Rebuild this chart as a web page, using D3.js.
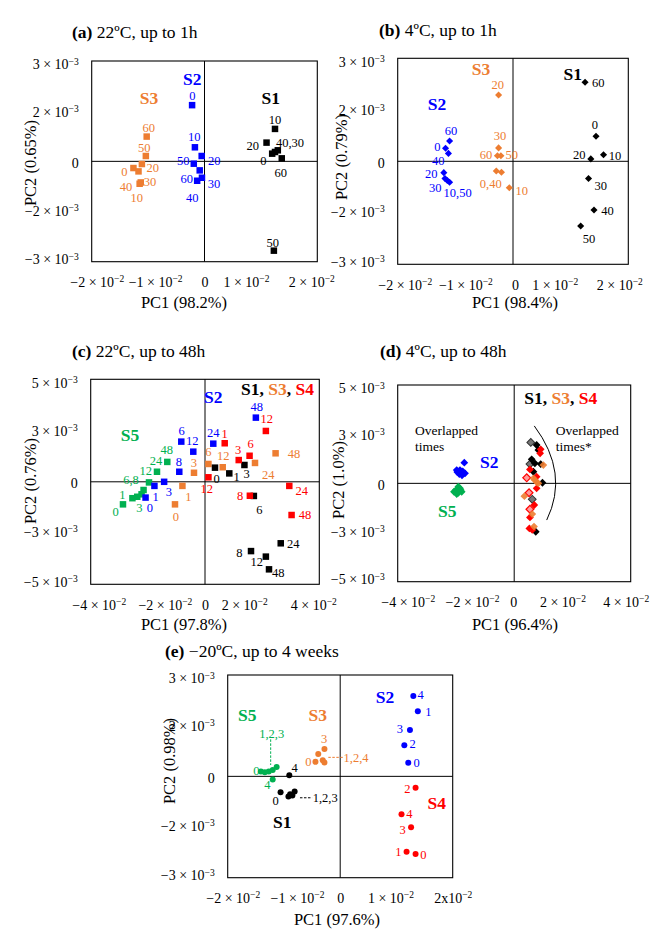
<!DOCTYPE html>
<html><head><meta charset="utf-8">
<script src="https://cdn.jsdelivr.net/npm/d3@7"></script>
<style>body{margin:0;background:#fff}</style>
</head><body><script>
// ===== DATA (PC1 in units of 10^-2, PC2 in units of 10^-3) =====
const COL = {S1:'#000000', S2:'#0000ff', S3:'#ed7d31', S4:'#ff0000', S5:'#00b050'};

// tick labels ("^" starts the superscript exponent)
const ticks1hX = [-2,-1,0,1,2];
const ticks1hXLabels = ["−2 × 10^−2","−1 × 10^−2","0","1 × 10^−2","2 × 10^−2"];
const ticks1hY = [3,1.5,0,-1.5,-3];
const ticks1hYLabels = ["3 × 10^−3","2 × 10^−3","0","−2 × 10^−3","−3 × 10^−3"];
const ticks48hX = [-4,-2,0,2,4];
const ticks48hXLabels = ["−4 × 10^−2","−2 × 10^−2","0","2 × 10^−2","4 × 10^−2"];
const ticks48hY = [5,2.5,0,-2.5,-5];
const ticks48hYLabels = ["5 × 10^−3","3 × 10^−3","0","−3 × 10^−3","−5 × 10^−3"];
const ticks4wXLabels = ["−2 × 10^−2","−1 × 10^−2","0","1 × 10^−2","2x10^−2"];

// (a) 22°C, up to 1h
const a_S1 = [[1.20,0.23],[1.25,0.97],[1.10,0.56],[1.25,0.28],[1.30,0.33],[1.23,-2.67],[1.37,0.09]];
const a_S2 = [[-0.22,1.68],[-0.17,0.42],[-0.05,0.16],[-0.045,-0.49],[-0.085,-0.27],[-0.19,-0.07],[-0.13,-0.58]];
const a_S3 = [[-1.26,-0.20],[-1.15,-0.67],[-1.11,-0.08],[-1.13,-0.63],[-1.17,-0.30],[-1.04,0.16],[-1.025,0.74]];
const a_labels = [
 ["10",1.25,1.26,"S1"],["20",0.855,0.46,"S1"],["40,30",1.516,0.556,"S1"],["0",1.043,0.02,"S1"],["60",1.351,-0.33,"S1"],["50",1.209,-2.42,"S1"],
 ["0",-0.216,1.97,"S2"],["10",-0.181,0.736,"S2"],["20",0.174,0.018,"S2"],["50",-0.376,0.009,"S2"],["60",-0.316,-0.52,"S2"],["30",0.168,-0.68,"S2"],["40",-0.216,-1.09,"S2"],
 ["60",-0.989,1.017,"S3"],["50",-1.067,0.419,"S3"],["20",-0.918,-0.20,"S3"],["0",-1.422,-0.311,"S3"],["30",-0.966,-0.60,"S3"],["40",-1.392,-0.76,"S3"],["10",-1.202,-1.089,"S3"]];
const a_groups = [["S1",1.174,1.90,"S1"],["S2",-0.216,2.48,"S2"],["S3",-0.984,1.885,"S3"]];

// (b) 4°C, up to 1h
const b_S1 = [[1.44,0.73],[1.57,0.19],[1.35,0.07],[1.31,-0.50],[1.405,-1.42],[1.174,-1.885],[1.25,2.30]];
const b_S2 = [[-1.17,0.38],[-1.14,-0.56],[-1.20,-0.33],[-1.18,-0.50],[-1.12,0.23],[-1.10,-0.61],[-1.10,0.59]];
const b_S3 = [[-0.29,-0.28],[-0.064,-0.77],[-0.25,1.93],[-0.25,0.39],[-0.20,-0.32],[-0.21,0.16],[-0.27,0.16]];
const b_labels = [
 ["60",1.48,2.29,"S1"],["0",1.42,1.08,"S1"],["10",1.77,0.154,"S1"],["20",1.15,0.18,"S1"],["30",1.52,-0.71,"S1"],["40",1.64,-1.44,"S1"],["50",1.32,-2.26,"S1"],
 ["60",-1.075,0.88,"S2"],["0",-1.31,0.42,"S2"],["40",-1.296,0.02,"S2"],["20",-1.42,-0.36,"S2"],["30",-1.35,-0.78,"S2"],["10,50",-0.96,-0.90,"S2"],
 ["20",-0.265,2.24,"S3"],["30",-0.225,0.737,"S3"],["60",-0.468,0.18,"S3"],["50",-0.023,0.20,"S3"],["0,40",-0.387,-0.64,"S3"],["10",0.151,-0.865,"S3"]];
const b_groups = [["S1",1.036,2.56,"S1"],["S2",-1.32,1.67,"S2"],["S3",-0.555,2.69,"S3"]];

// (c) 22°C, up to 48h
const c_S1 = [[0.35,0.69],[0.85,0.41],[1.38,0.82],[1.71,-0.69],[1.61,-3.38],[2.13,-3.65],[2.65,-3.0],[2.24,-4.27]];
const c_S2 = [[-2.08,-0.77],[-1.77,-0.20],[-1.43,0.0],[-0.83,1.96],[-0.90,0.49],[-0.41,1.47],[0.29,1.86],[1.78,3.13]];
const c_S3 = [[-1.05,-1.10],[-0.79,-0.20],[-0.385,0.44],[0.12,0.87],[0.62,0.71],[1.75,0.92],[2.47,1.39]];
const c_S4 = [[0.12,0.22],[0.69,1.88],[1.18,1.06],[1.56,1.27],[1.57,-0.68],[2.13,2.48],[2.95,-0.20],[3.03,-1.62]];
const c_S5 = [[-2.87,-1.10],[-2.54,-0.80],[-2.37,-0.73],[-2.22,-0.61],[-2.15,-0.40],[-1.96,-0.03],[-1.68,0.49],[-1.32,0.97]];
const c_labels = [
 ["6",-0.815,2.49,"S2"],["12",-0.444,2.00,"S2"],["8",-0.91,0.98,"S2"],["3",-1.26,-0.48,"S2"],["1",-1.725,-0.73,"S2"],["0",-1.925,-1.24,"S2"],["24",0.29,2.40,"S2"],["48",1.81,3.68,"S2"],
 ["0",-3.125,-1.46,"S5"],["1",-2.894,-0.64,"S5"],["3",-2.30,-1.26,"S5"],["6,8",-2.59,0.09,"S5"],["12",-2.075,0.53,"S5"],["24",-1.715,1.01,"S5"],["48",-1.34,1.55,"S5"],
 ["3",-0.385,0.93,"S3"],["1",-0.584,-0.73,"S3"],["0",-1.015,-1.70,"S3"],["6",0.115,1.47,"S3"],["12",0.64,1.26,"S3"],["24",2.215,0.33,"S3"],["48",3.115,1.39,"S3"],
 ["1",0.69,2.37,"S4"],["12",2.16,3.10,"S4"],["3",1.155,1.55,"S4"],["6",1.60,1.88,"S4"],["12",0.06,-0.35,"S4"],["8",1.225,-0.68,"S4"],["24",3.384,-0.45,"S4"],["48",3.50,-1.62,"S4"],
 ["0",0.41,0.17,"S1"],["1",1.11,0.25,"S1"],["3",1.46,0.38,"S1"],["6",1.90,-1.34,"S1"],["24",3.09,-3.03,"S1"],["8",1.20,-3.44,"S1"],["12",1.81,-3.90,"S1"],["48",2.565,-4.43,"S1"]];
const c_groups = [["S2",0.29,4.12,"S2"],["S5",-2.625,2.28,"S5"]];

// (d) 4°C, up to 48h
const d_S2 = [[-1.713,1.05],[-1.861,0.676],[-1.953,0.574],[-1.768,0.61],[-1.689,0.508],[-1.885,0.473],[-1.792,0.407],[-1.974,0.676]];
const d_S5 = [[-1.919,-0.173],[-1.998,-0.34],[-1.861,-0.254],[-2.067,-0.427],[-1.919,-0.478],[-1.803,-0.427],[-1.974,-0.544],[-1.837,-0.34]];
const d_S1_faded = [[0.57,2.08],[0.54,0.98],[0.62,-0.81]];
const d_S4_faded = [[0.43,0.28],[0.51,-0.48],[0.54,-1.32]];
const d_S1 = [[0.77,1.95],[0.83,1.69],[0.60,1.22],[0.71,1.02],[0.91,0.98],[0.66,0.59],[0.97,0.03],[0.74,-2.46]];
const d_S4 = [[0.91,1.73],[0.89,1.53],[0.54,0.71],[0.77,0.34],[0.77,-0.25],[0.69,-1.10],[0.54,-1.73],[0.52,-2.29],[0.62,-2.37]];
const d_S3 = [[1.0,0.93],[0.71,0.17],[0.66,0.25],[0.78,0.05],[0.83,0.0],[0.35,-0.65],[0.62,-1.56],[0.68,-2.2]];
const d_groups = [["S2",-0.855,1.07,"S2"],["S5",-2.297,-1.41,"S5"]];

// (e) −20°C, up to 4 weeks
const e_S1 = [[-0.905,0.03],[-1.06,-0.47],[-0.92,-0.60],[-0.85,-0.57],[-0.81,-0.45],[-0.89,-0.53]];
const e_S2 = [[1.21,0.40],[1.38,1.93],[1.14,0.92],[1.24,1.37],[1.30,2.38]];
const e_S3 = [[-0.28,0.81],[-0.39,0.66],[-0.44,0.43],[-0.31,0.48],[-0.28,0.41]];
const e_S4 = [[1.34,-2.30],[1.18,-2.23],[1.34,-0.34],[1.26,-1.51],[1.09,-1.12]];
const e_S5 = [[-1.41,0.14],[-1.34,0.12],[-1.27,0.14],[-1.20,0.19],[-1.13,0.28],[-1.20,-0.09]];
const e_labels = [
 ["4",1.431,2.41,"S2"],["1",1.566,1.93,"S2"],["3",1.063,1.42,"S2"],["2",1.289,0.98,"S2"],["0",1.36,0.40,"S2"],
 ["2",1.193,-0.355,"S4"],["4",1.228,-1.116,"S4"],["3",1.111,-1.59,"S4"],["1",1.033,-2.23,"S4"],["0",1.477,-2.31,"S4"],
 ["0",-1.49,0.166,"S5"],["4",-1.296,-0.237,"S5"],["1,2,3",-1.218,1.27,"S5"],
 ["4",-0.809,0.266,"S1"],["0",-1.147,-0.72,"S1"],["1,2,3",-0.49,-0.634,"S1","start"],
 ["3",-0.288,1.125,"S3"],["0",-0.567,0.43,"S3"],["1,2,4",0.06,0.5625,"S3","start"]];
const e_groups = [["S2",0.796,2.36,"S2"],["S4",1.716,-0.78,"S4"],["S5",-1.652,1.815,"S5"],["S1",-1.029,-1.36,"S1"],["S3",-0.40,1.815,"S3"]];

// ===== DRAWING =====
const FONT = '"Liberation Serif","Times New Roman",Times,serif';
const svg = d3.select('body').append('svg').attr('width',667).attr('height',942)
  .style('font-family',FONT).style('background','#fff');

function sci(t, s){
  t.text(null);
  const parts = s.split('^');
  t.append('tspan').text(parts[0]);
  if(parts[1]) t.append('tspan').attr('dy','-0.5em').attr('font-size','0.68em').text(parts[1]);
}

function panel(p){
  const x = d3.scaleLinear().domain(p.xd).range([p.box[0], p.box[2]]);
  const y = d3.scaleLinear().domain(p.yd).range([p.box[3], p.box[1]]);
  const g = svg.append('g');
  // title
  const tt = g.append('text').attr('x',p.title[0]).attr('y',p.title[1]).attr('font-size',17.5);
  tt.append('tspan').attr('font-weight','bold').text(p.title[2]);
  tt.append('tspan').text(p.title[3]);
  // x ticks
  const gx = g.append('g').attr('transform',`translate(0,${y(p.yd[0])})`)
    .call(d3.axisBottom(x).tickValues(p.xt).tickSize(0).tickFormat(''))
    .attr('font-family',FONT).attr('font-size',14);
  gx.select('.domain').remove();
  gx.selectAll('.tick text').each(function(d,i){
    const t=d3.select(this).attr('y',21).attr('dy','0.32em').attr('dx',p.xdx[i]).attr('fill','#000');
    sci(t,p.xl[i]);
  });
  // y ticks
  const gy = g.append('g').attr('transform',`translate(${x(p.xd[0])},0)`)
    .call(d3.axisLeft(y).tickValues(p.yt).tickSize(0).tickPadding(13).tickFormat(''))
    .attr('font-family',FONT).attr('font-size',14);
  gy.select('.domain').remove();
  gy.selectAll('.tick text').each(function(d,i){
    const t=d3.select(this).attr('dy',(0.36+ (p.ydy?p.ydy[i]:0))+'em').attr('fill','#000');
    sci(t,p.yl[i]);
  });
  // frame + zero lines
  g.append('rect').attr('x',x(p.xd[0])).attr('y',y(p.yd[1]))
    .attr('width',x(p.xd[1])-x(p.xd[0])).attr('height',y(p.yd[0])-y(p.yd[1]))
    .attr('fill','none').attr('stroke','#000').attr('stroke-width',1.1);
  g.append('line').attr('x1',x(0)).attr('x2',x(0)).attr('y1',y(p.yd[0])).attr('y2',y(p.yd[1])).attr('stroke','#000').attr('stroke-width',1);
  g.append('line').attr('x1',x(p.xd[0])).attr('x2',x(p.xd[1])).attr('y1',y(0)).attr('y2',y(0)).attr('stroke','#000').attr('stroke-width',1);
  // axis titles
  g.append('text').attr('x',p.xlab[0]).attr('y',p.xlab[1]).attr('text-anchor','middle').attr('font-size',16.5).text(p.xlab[2]);
  g.append('text').attr('transform',`translate(${p.ylab[0]},${p.ylab[1]}) rotate(-90)`).attr('dy','0.35em')
    .attr('text-anchor','middle').attr('font-size',16.5).text(p.ylab[2]);
  // annotations (behind marks)
  if(p.extra) p.extra(g,x,y);
  // series
  p.series.forEach(s=>{
    if(s.shape==='circle'){
      g.selectAll(null).data(s.data).join('circle').attr('cx',d=>x(d[0])).attr('cy',d=>y(d[1])).attr('r',s.size)
        .attr('fill',s.fill||COL[s.key]);
      return;
    }
    const sym = d3.symbol().type(d3.symbolSquare).size(s.size*s.size);
    g.selectAll(null).data(s.data).join('path').attr('d',sym)
      .attr('transform',d=>`translate(${x(d[0])},${y(d[1])})`+(s.shape==='diamond'?' rotate(45)':''))
      .attr('fill',s.fill||COL[s.key]).attr('fill-opacity',s.op==null?1:s.op)
      .attr('stroke',s.stroke||'none').attr('stroke-width',s.sw||0);
  });
  // point labels
  (p.labels||[]).forEach(l=>{
    g.append('text').attr('x',x(l[1])).attr('y',y(l[2])).attr('dy','0.35em')
      .attr('text-anchor',l[4]||'middle').attr('font-size',12.5).attr('fill',COL[l[3]]).text(l[0]);
  });
  (p.groups||[]).forEach(l=>{
    g.append('text').attr('x',x(l[1])).attr('y',y(l[2])).attr('dy','0.35em')
      .attr('text-anchor','middle').attr('font-size',17.5).attr('font-weight','bold').attr('fill',COL[l[3]]).text(l[0]);
  });
  if(p.multi){
    const t=g.append('text').attr('x',x(p.multi[0])).attr('y',y(p.multi[1])).attr('dy','0.35em')
      .attr('text-anchor','middle').attr('font-size',17.5).attr('font-weight','bold');
    [["S1","S1"],[", ","S1"],["S3","S3"],[", ","S1"],["S4","S4"]].forEach(q=>t.append('tspan').attr('fill',COL[q[1]]).text(q[0]));
  }
}

// (a)
panel({box:[91.7,61,317.3,261.7], xd:[-2,2], yd:[-3,3], xt:ticks1hX, xl:ticks1hXLabels, xdx:[5,7,0,-15,-6],
  yt:ticks1hY, yl:ticks1hYLabels, ydy:[0.2,0,0.05,-0.1,-0.2],
  title:[72,38,"(a)"," 22ºC, up to 1h"], xlab:[184,308,"PC1 (98.2%)"], ylab:[30,163,"PC2 (0.65%)"],
  series:[{key:'S3',data:a_S3,shape:'square',size:6.5},{key:'S2',data:a_S2,shape:'square',size:6.5},{key:'S1',data:a_S1,shape:'square',size:6.5}],
  labels:a_labels, groups:a_groups});

// (b)
panel({box:[397.7,58.3,628.3,264.3], xd:[-2,2], yd:[-3,3], xt:ticks1hX, xl:ticks1hXLabels, xdx:[7,10,2,-16,-9],
  yt:ticks1hY, yl:ticks1hYLabels, ydy:[0.2,0,0.05,-0.1,-0.2],
  title:[379,36,"(b)"," 4ºC, up to 1h"], xlab:[515,308,"PC1 (98.4%)"], ylab:[341,157,"PC2 (0.79%)"],
  series:[{key:'S3',data:b_S3,shape:'diamond',size:5},{key:'S2',data:b_S2,shape:'diamond',size:5},{key:'S1',data:b_S1,shape:'diamond',size:5}],
  labels:b_labels, groups:b_groups});

// (c)
panel({box:[90.7,379.3,319.3,584.3], xd:[-4,4], yd:[-5,5], xt:ticks48hX, xl:ticks48hXLabels, xdx:[8,17,0,-18,-6],
  yt:ticks48hY, yl:ticks48hYLabels, ydy:[0.2,0,0.05,-0.1,-0.2],
  title:[72,357,"(c)"," 22ºC, up to 48h"], xlab:[184,630,"PC1 (97.8%)"], ylab:[30,481,"PC2 (0.76%)"],
  series:[{key:'S5',data:c_S5,shape:'square',size:6.5},{key:'S2',data:c_S2,shape:'square',size:6.5},{key:'S3',data:c_S3,shape:'square',size:6.5},
          {key:'S1',data:c_S1,shape:'square',size:6.5},{key:'S4',data:c_S4,shape:'square',size:6.5}],
  labels:c_labels, groups:c_groups, multi:[2.54,4.52]});

// (d)
panel({box:[397.7,385,630.7,581.7], xd:[-4,4], yd:[-5,5], xt:ticks48hX, xl:ticks48hXLabels, xdx:[10,16,-1,-10,-5],
  yt:ticks48hY, yl:ticks48hYLabels, ydy:[0.2,0,0.05,-0.1,-0.2],
  title:[380,357,"(d)"," 4ºC, up to 48h"], xlab:[515,630,"PC1 (96.4%)"], ylab:[338,480,"PC2 (1.0%)"],
  series:[{key:'S2',data:d_S2,shape:'diamond',size:5.5},{key:'S5',data:d_S5,shape:'diamond',size:5.5},
          {key:'S1',data:d_S1_faded,shape:'diamond',size:5.5,fill:'#777',stroke:'#333',sw:1},
          {key:'S1',data:d_S1,shape:'diamond',size:5.5},
          {key:'S4',data:d_S4_faded,shape:'diamond',size:5.5,fill:'#ff9a9a',stroke:'#ff0000',sw:1.2},
          {key:'S4',data:d_S4,shape:'diamond',size:5.5},
          {key:'S3',data:d_S3,shape:'diamond',size:5.5,op:0.9}],
  groups:d_groups, multi:[1.60,4.37],
  extra:(g,x,y)=>{
    const path=d3.path(); path.moveTo(x(0.69),y(2.92)); path.quadraticCurveTo(x(1.90),y(0.52),x(1.116),y(-1.866));
    g.append('path').attr('d',path.toString()).attr('fill','none').attr('stroke','#000').attr('stroke-width',1);
    [["Overlapped",-3.406,2.71],["times",-3.406,1.86],["Overlapped",1.425,2.71],["times*",1.425,1.86]].forEach(t=>
      g.append('text').attr('x',x(t[1])).attr('y',y(t[2])).attr('dy','0.35em').attr('font-size',13.5).text(t[0]));
  }});

// (e)
panel({box:[227.7,675,452.7,877.7], xd:[-2,2], yd:[-3,3], xt:ticks1hX, xl:ticks4wXLabels, xdx:[5,13,0,-6,0],
  yt:ticks1hY, yl:ticks1hYLabels, ydy:[0.2,0,0.05,-0.1,-0.2],
  title:[165,657,"(e)"," −20ºC, up to 4 weeks"], xlab:[337,925,"PC1 (97.6%)"], ylab:[169,761,"PC2 (0.98%)"],
  series:[{key:'S5',data:e_S5,shape:'circle',size:3},{key:'S1',data:e_S1,shape:'circle',size:3},{key:'S3',data:e_S3,shape:'circle',size:3},
          {key:'S2',data:e_S2,shape:'circle',size:3},{key:'S4',data:e_S4,shape:'circle',size:3}],
  labels:e_labels, groups:e_groups,
  extra:(g,x,y)=>{
    const dl=(x1,y1,x2,y2,c)=>g.append('line').attr('x1',x(x1)).attr('y1',y(y1)).attr('x2',x(x2)).attr('y2',y(y2))
      .attr('stroke',c).attr('stroke-width',1).attr('stroke-dasharray','2.5,1.5');
    dl(-1.236,1.095,-1.236,0.335,COL.S5);
    dl(-0.715,-0.634,-0.50,-0.634,COL.S1);
    dl(-0.2116,0.5625,0.05,0.5625,COL.S3);
  }});
</script></body></html>
